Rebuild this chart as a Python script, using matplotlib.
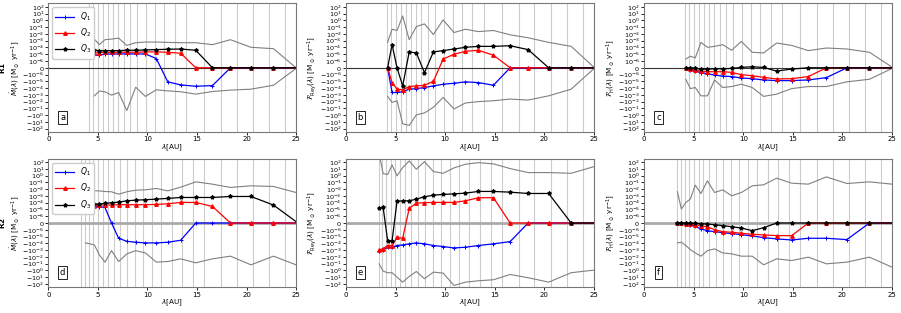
import numpy as np
import matplotlib
matplotlib.use('Agg')
import matplotlib.pyplot as plt
from matplotlib.ticker import FixedLocator, NullLocator

nan = np.nan

# lambda grid [AU]
lam = [3.35, 3.75, 4.2, 4.65, 5.15, 5.72, 6.38, 7.1, 7.92, 8.82, 9.8,
       10.9, 12.05, 13.36, 14.88, 16.56, 18.38, 20.45, 22.72, 25.0]

# gray vertical lines
vl_r1 = [4.1, 4.55, 5.05, 5.55, 6.05, 6.55, 7.05, 7.6, 8.25, 9.0, 9.85, 10.75,
         11.7, 12.75, 13.9, 15.7, 17.45, 19.0, 20.65, 22.3, 23.9]
vl_r2 = [3.3, 3.67, 4.08, 4.51, 4.98, 5.48, 5.98, 6.58, 7.23, 7.93, 8.73, 9.57,
         10.47, 11.4, 12.45, 13.5, 14.6, 15.7, 17.45, 19.0, 20.65, 22.3, 23.9]

# panel a
q1_a = [nan, nan, nan, 7.1e-6, 7.9e-6, 1.0e-5, 1.1e-5, 1.1e-5, 1.1e-5, 1.1e-5, 1.1e-5,
        2.3e-6, -1.2e-5, -3.4e-5, -5.4e-5, -4.3e-5, 0, 0, 0, 0]
q2_a = [nan, nan, nan, 1.55e-5, 1.7e-5, 1.95e-5, 1.95e-5, 1.95e-5, 1.95e-5, 1.95e-5, 2.2e-5,
        2.2e-5, 1.95e-5, 1.4e-5, 0, 0, 0, 0, 0, 0]
q3_a = [nan, nan, nan, 3.8e-5, 3.4e-5, 3.4e-5, 3.4e-5, 3.4e-5, 3.8e-5, 3.8e-5, 4.3e-5,
        4.8e-5, 5.4e-5, 5.9e-5, 3.8e-5, 0, 0, 0, 0, 0]
up_a = [nan, nan, nan, 1.7e-3, 2.6e-4, 1.4e-3, 1.7e-3, 2.4e-3, 2.0e-4, 5.0e-4, 6.3e-4,
        6.3e-4, 5.6e-4, 5.0e-4, 5.0e-4, 2.6e-4, 1.4e-3, 1.05e-4, 6.6e-5, 0]
lo_a = [nan, nan, nan, -1.4e-3, -2.8e-4, -3.5e-4, -1.1e-3, -4.5e-4, -0.21, -7.4e-5, -1.7e-3,
        -1.8e-4, -2.6e-4, -3.5e-4, -7.8e-4, -3.2e-4, -2.0e-4, -1.45e-4, -3.8e-5, -1e-7]

# panel b
q1_b = [nan, nan, 0, -4.5e-4, -4.5e-4, -3.5e-4, -1.45e-4, -1.2e-4, -8.3e-5, -4.8e-5, -2.7e-5,
        -1.95e-5, -1.2e-5, -1.55e-5, -3.8e-5, 0, 0, 0, 0, 0]
q2_b = [nan, nan, 0, -1.55e-5, -1.45e-4, -1.8e-4, -5.9e-5, -4.8e-5, -3.8e-5, -1.0e-5, 1.9e-6,
        1.0e-5, 2.7e-5, 3.8e-5, 7.1e-6, 0, 0, 0, 0, 0]
q3_b = [nan, nan, 0, 2.6e-4, 0, -4.8e-5, 2.2e-5, 1.55e-5, -7.3e-7, 2.2e-5, 3.4e-5,
        5.9e-5, 1.05e-4, 1.45e-4, 1.45e-4, 1.8e-4, 4.8e-5, 0, 0, 0]
up_b = [nan, nan, 5.6e-4, 4.9e-2, 3.2e-2, 4.4, 1.4e-3, 0.12, 0.3, 8.1e-3, 1.15,
        1.6e-2, 4.9e-2, 2.2e-2, 3.2e-2, 7.4e-3, 2.7e-3, 5.6e-4, 1.45e-4, 1e-7]
lo_b = [nan, nan, -1.7e-3, -1.3e-2, -7.4e-3, -18.6, -33, -0.91, -0.47, -6.9e-2, -2.4e-3,
        -0.12, -1.6e-2, -1.0e-2, -7.4e-3, -4.2e-3, -5.9e-3, -1.4e-3, -1.45e-4, -1.5e-7]

# panel c
q1_c = [nan, nan, 0, -3.9e-7, -4.9e-7, -7.3e-7, -8.8e-7, -1.2e-6, -1.7e-6, -2.0e-6, -3.2e-6,
        -4.1e-6, -6.3e-6, -7.9e-6, -7.9e-6, -6.3e-6, -2.9e-6, 0, 0, 0]
q2_c = [nan, nan, 0, -2.4e-7, -3.4e-7, -4.9e-7, -5.8e-7, -5.8e-7, -5.8e-7, -6.8e-7, -1.05e-6,
        -1.5e-6, -2.6e-6, -4.5e-6, -4.1e-6, -2.0e-6, 0, 0, 0, 0]
q3_c = [nan, nan, 0, 0, -1e-7, -1.9e-7, -1.9e-7, -1.5e-7, -1.5e-7, -1e-7, 5e-8,
        1.5e-7, 5e-8, -4.9e-7, -1.9e-7, 0, 0, 0, 0, 0]
up_c = [nan, nan, 2.0e-6, 5e-6, 2.9e-6, 5.6e-4, 1.05e-4, 1.45e-4, 2.6e-4, 3.8e-5, 7.8e-4,
        1.95e-5, 1.55e-5, 4.5e-4, 2.0e-4, 3.4e-5, 8.3e-5, 5.9e-5, 1.95e-5, 1e-7]
lo_c = [nan, nan, -5e-6, -1.2e-4, -8.3e-5, -1.4e-3, -1.4e-3, -6.3e-6, -8.3e-5, -5.9e-5, -2.7e-5,
        -8.3e-5, -1.7e-3, -7.8e-4, -1.2e-4, -5.9e-5, -5.9e-5, -1.2e-5, -5e-6, -1e-7]

# panel d
q1_d = [nan, 1.6e-5, 2.5e-5, 2.5e-5, 2.5e-5, 2.0e-5, 0, -1.8e-5, -5e-5, -6.9e-5, -8.7e-5,
        -8.7e-5, -6.9e-5, -3.5e-5, 0, 0, 0, 0, 0, 0]
q2_d = [nan, 2.8e-5, 3.5e-5, 3.5e-5, 4.5e-5, 4.5e-5, 4.5e-5, 5e-5, 5e-5, 5e-5, 5e-5,
        5.6e-5, 6.9e-5, 1.1e-4, 1.1e-4, 2.8e-5, 0, 0, 0, 0]
q3_d = [nan, 6.2e-5, 6.2e-5, 6.2e-5, 6.2e-5, 7.8e-5, 9.8e-5, 1.2e-4, 1.9e-4, 2.4e-4, 2.7e-4,
        3.4e-4, 4.3e-4, 5.9e-4, 5.9e-4, 5.9e-4, 8.3e-4, 8.3e-4, 4.5e-5, 2e-7]
up_d = [nan, 3.2e-3, 7.1e-3, 5.6e-3, 5.6e-3, 4.5e-3, 4.1e-3, 1.8e-3, 4.1e-3, 7.1e-3, 7.9e-3,
        1.26e-2, 5.6e-3, 1.95e-2, 0.12, 5.5e-2, 1.8e-2, 3.1e-2, 2.5e-2, 3.2e-3]
lo_d = [nan, -8.7e-5, -1.2e-4, -1.7e-4, -5.1e-3, -6e-2, -1.2e-3, -4.9e-2, -3.6e-3, -1.2e-3, -2.6e-3,
        -6e-2, -4.9e-2, -1.95e-2, -7.6e-2, -1.95e-2, -7.9e-3, -0.15, -7.9e-3, -0.15]

# panel e
q1_e = [-1.5e-3, -9.3e-4, -3.8e-4, -3.8e-4, -2.1e-4, -1.7e-4, -1.2e-4, -8.7e-5, -1.2e-4, -2.1e-4,
        -3e-4, -4.8e-4, -3.8e-4, -2.1e-4, -1.2e-4, -5.6e-5, 0, 0, 0, 0]
q2_e = [-9.3e-4, -5.9e-4, -2.1e-4, -2.1e-4, -1.3e-5, -1.8e-5, 1.45e-5, 8.7e-5, 1.0e-4, 1.1e-4,
        1.1e-4, 1.1e-4, 1.9e-4, 5.4e-4, 5.4e-4, 0, 0, 0, 0, 0]
q3_e = [1.6e-5, 2e-5, -4e-5, -4e-5, 1.55e-4, 1.9e-4, 1.9e-4, 3.4e-4, 7.4e-4, 1.3e-3,
        1.66e-3, 2.0e-3, 2.6e-3, 4.6e-3, 4.6e-3, 3.6e-3, 2.3e-3, 2.3e-3, 0, 0]
up_e = [1400, 2.0, 1.45, 38, 0.91, 15.5, 148, 8.7, 117, 4.0,
        2.2, 13.8, 48, 83, 54, 11, 2.8, 2.8, 2.2, 21]
lo_e = [-0.107, -1.3, -2.2, -2.2, -9.8, -54, -7.8, -1.45, -17, -1.8,
        -2.5, -166, -54, -34, -24, -4.0, -12, -54, -2.2, -0.91]

# panel f
q1_f = [0, -5e-8, -1.5e-7, -2.5e-7, -4.9e-7, -8.8e-7, -1.35e-6, -1.9e-6, -2.6e-6, -3.7e-6,
        -5.2e-6, -8.1e-6, -1.45e-5, -2.2e-5, -3.2e-5, -1.8e-5, -1.8e-5, -2.8e-5, 0, 0]
q2_f = [0, -5e-8, -1e-7, -1.5e-7, -2.5e-7, -3.9e-7, -5.9e-7, -9.8e-7, -1.9e-6, -2.3e-6,
        -3.3e-6, -4.6e-6, -5.8e-6, -7.3e-6, -7.3e-6, 0, 0, 0, 0, 0]
q3_f = [0, 0, 0, -5e-8, -5e-8, -1e-7, -1.5e-7, -2.5e-7, -3.9e-7, -5.4e-7,
        -7.4e-7, -1.35e-6, -6.9e-7, 0, 0, 0, 0, 0, 0, 0]
up_f = [4.1e-3, 1.15e-5, 1.1e-4, 3.4e-4, 3.9e-2, 2.3e-3, 0.17, 3.2e-3, 7.9e-3, 1.05e-3,
        3.2e-3, 3.1e-2, 4.4e-2, 0.42, 7.6e-2, 5.5e-2, 0.65, 6.8e-2, 0.12, 5.5e-2]
lo_f = [-8.7e-5, -6.9e-5, -2.1e-4, -8.3e-4, -2.6e-3, -7.9e-3, -1.2e-3, -6.6e-4, -2.6e-3, -3.6e-3,
        -7.9e-3, -7.9e-3, -0.15, -1.95e-2, -3.5e-2, -1.1e-2, -0.107, -6e-2, -1.1e-2, -0.33]

unit = r' [M$_\odot$ yr$^{-1}$]'
ylab_m = r'$\dot{M}(\lambda)$' + unit
ylab_rey = r'$\mathcal{F}_{\rm Rey}(\lambda)$' + unit
ylab_h = r'$\mathcal{F}_{\rm H}(\lambda)$' + unit

panels = [
    ('a', 0, 0, q1_a, q2_a, q3_a, up_a, lo_a, r'$\bf{R1}$' + '\n' + ylab_m),
    ('b', 0, 1, q1_b, q2_b, q3_b, up_b, lo_b, ylab_rey),
    ('c', 0, 2, q1_c, q2_c, q3_c, up_c, lo_c, ylab_h),
    ('d', 1, 0, q1_d, q2_d, q3_d, up_d, lo_d, r'$\bf{R2}$' + '\n' + ylab_m),
    ('e', 1, 1, q1_e, q2_e, q3_e, up_e, lo_e, ylab_rey),
    ('f', 1, 2, q1_f, q2_f, q3_f, up_f, lo_f, ylab_h),
]

yticks = [-10.0**k for k in range(2, -7, -1)] + [0] + [10.0**k for k in range(-6, 3)]

fig = plt.figure(figsize=(9.01, 3.13), dpi=100)
lefts = [0.0536, 0.384, 0.715]
bottoms = [0.578, 0.082]
w, h = 0.275, 0.411

for letter, r, c, q1, q2, q3, up, lo, ylab in panels:
    ax = fig.add_axes([lefts[c], bottoms[r], w, h])
    ax.set_yscale('symlog', linthresh=1e-6, linscale=0.9)
    for v in (vl_r1 if r == 0 else vl_r2):
        ax.axvline(v, color='#cccccc', lw=0.8, zorder=0)
    if r == 0:
        ax.axhline(0, color='#333333', lw=0.8, zorder=1)
    else:
        ax.axhline(0, color='#aaaaaa', lw=2.0, zorder=1)
    ax.plot(lam, up, color='gray', lw=0.8, zorder=2)
    ax.plot(lam, lo, color='gray', lw=0.8, zorder=2)
    mk = list(range(len(lam) - 1))
    ax.plot(lam, q1, color='blue', marker='+', ms=2.6, mew=0.7, lw=0.9,
            markevery=mk, label=r'$Q_1$', zorder=3)
    ax.plot(lam, q2, color='red', marker='^', ms=2.5, lw=0.9,
            markevery=mk, label=r'$Q_2$', zorder=4)
    ax.plot(lam, q3, color='black', marker='*', ms=2.8, lw=0.9,
            markevery=mk, label=r'$Q_3$', zorder=5)
    ax.set_xlim(0, 25)
    ax.set_ylim(-10**2.5, 10**2.5)
    ax.yaxis.set_major_locator(FixedLocator(yticks))
    ax.yaxis.set_minor_locator(NullLocator())
    ax.set_xticks([0, 5, 10, 15, 20, 25])
    ax.tick_params(axis='y', labelsize=4.6, length=2, width=0.6, pad=1)
    ax.tick_params(axis='x', labelsize=5, length=2, width=0.6, pad=1)
    ax.set_xlabel(r'$\lambda$[AU]', fontsize=5.2, labelpad=0)
    ax.set_ylabel(ylab, fontsize=5.2, labelpad=0.5, linespacing=1.1)
    for s in ax.spines.values():
        s.set_color('#777777')
    ax.text(0.058, 0.115, letter, transform=ax.transAxes, fontsize=6,
            ha='center', va='center',
            bbox=dict(facecolor='white', edgecolor='black', lw=0.6, pad=1.5))
    if c == 0:
        ax.legend(loc='upper left', fontsize=5.5, handlelength=2.5,
                  borderpad=0.4, labelspacing=0.5, framealpha=1)

fig.savefig('out.png', dpi=100)
